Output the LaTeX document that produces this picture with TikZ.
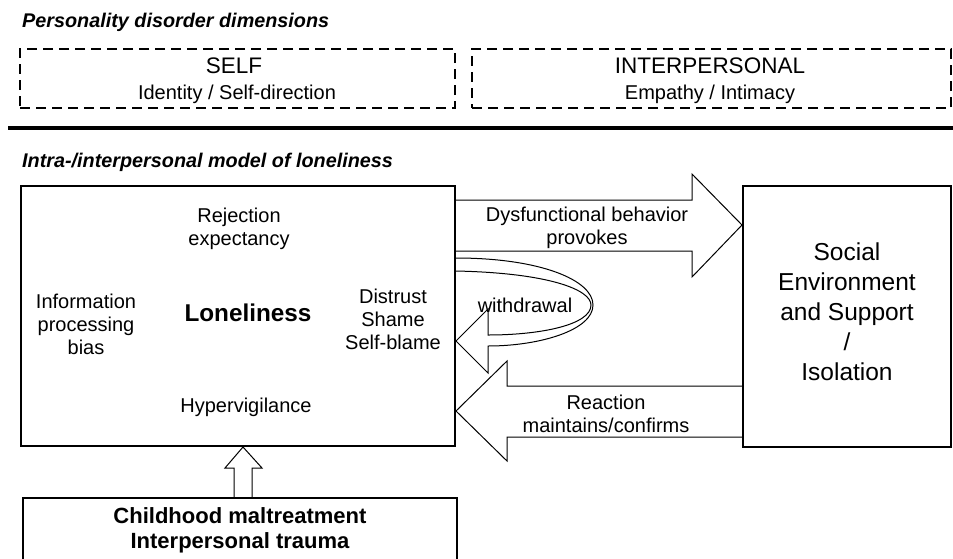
\documentclass[tikz,border=0pt]{standalone}
\usepackage{fontspec}
\setmainfont{Liberation Sans}
\begin{document}
\begin{tikzpicture}[x=1pt,y=-1pt,
  txt/.style={font=\fontsize{20}{23}\selectfont, align=center, inner sep=0pt},
  ttl/.style={font=\fontsize{19.8}{23}\selectfont\bfseries\itshape, anchor=base west, inner sep=0pt},
  hdr/.style={font=\fontsize{22.5}{26}\selectfont, inner sep=0pt},
  box/.style={draw, line width=2pt, inner sep=0pt},
  dbox/.style={draw, line width=1.8pt, dash pattern=on 10pt off 6pt, inner sep=0pt},
  fat/.style={draw, line width=1pt, line join=miter}]
\useasboundingbox (0,0) rectangle (953,558);
\clip (0,0) rectangle (953,558);

% top part
\node[ttl] (t1) at (22,27) {Personality disorder dimensions};
\node[dbox, minimum width=435pt, minimum height=59pt] (self) at (237.5,78.5) {};
\node[dbox, minimum width=479pt, minimum height=59pt] (inter) at (711.5,78.5) {};
\node[hdr] (selfa) at (234,66) {SELF};
\node[txt] (selfb) at (237,94) {Identity / Self-direction};
\node[hdr] (intera) at (710,66) {INTERPERSONAL};
\node[txt] (interb) at (710,94) {Empathy / Intimacy};
\coordinate (sepl) at (8,128);
\coordinate (sepr) at (953,128);
\draw[line width=3.5pt] (sepl) -- (sepr);

% model
\node[ttl] (t2) at (22,167) {Intra-/interpersonal model of loneliness};
\node[box, minimum width=434pt, minimum height=260pt] (main) at (238,316) {};
\node[box, minimum width=208pt, minimum height=261pt] (env) at (847,316.5) {};
\node[box, minimum width=434pt, minimum height=80pt] (trauma) at (240,538) {};

\node[txt] (rej) at (239,229) {Rejection\\expectancy};
\node[txt] (info) at (86,324) {Information\\processing\\bias};
\node[txt, font=\fontsize{24.3}{28}\selectfont\bfseries] (lone) at (248,313) {Loneliness};
\node[txt] (dis) at (393,319) {Distrust\\Shame\\Self-blame};
\node[txt] (hyp) at (246,407) {Hypervigilance};
\node[txt, font=\fontsize{24.5}{30}\selectfont] (envt) at (847,312) {Social\\Environment\\and Support\\/\\Isolation};
\node[txt, font=\fontsize{22}{25}\selectfont\bfseries] (traumat) at (240,530) {Childhood maltreatment\\Interpersonal trauma};

% block arrows
\draw[fat] (main.east |- 0,200) -- (692,200) -- (692,174) -- (env.west |- 0,225)
  -- (692,277) -- (692,251) -- (main.east |- 0,251);
\node[txt] (dysf) at (587,228) {Dysfunctional behavior\\provokes};

\draw[fat] (env.west |- 0,386) -- (507,386) -- (507,361) -- (main.east |- 0,411)
  -- (507,461) -- (507,437) -- (env.west |- 0,437);
\node[txt] (reac) at (606,414) {Reaction\\maintains/confirms};

\draw[fat] (main.east |- 0,258) .. controls (540,258) and (593,280) .. (593,305)
  .. controls (593,330) and (540,346) .. (488,346) -- (488,373) -- (main.east |- 0,341)
  -- (488,309) -- (488,335) .. controls (540,335) and (591,325) .. (591,305)
  .. controls (591,290) and (550,273) .. (main.east |- 0,271);
\node[txt] (withd) at (525,305) {withdrawal};

\draw[fat] (trauma.north -| 234,0) -- (234,468) -- (225,468) -- (main.south -| 243,0)
  -- (262,468) -- (252,468) -- (trauma.north -| 252,0);
\end{tikzpicture}
\end{document}
